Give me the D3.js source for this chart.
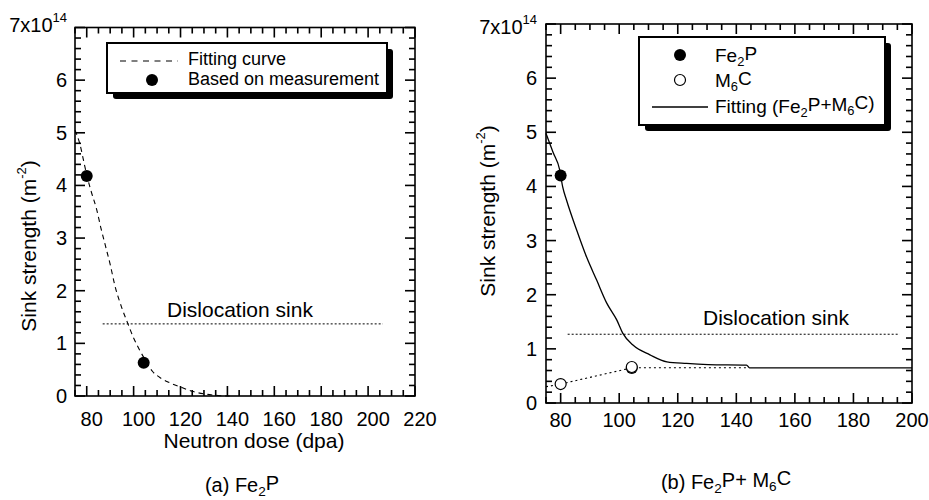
<!DOCTYPE html>
<html><head><meta charset="utf-8">
<script src="https://cdn.jsdelivr.net/npm/d3@7"></script>
<style>
body{margin:0;background:#fff}
svg{display:block}
text{font-family:'Liberation Sans',Arial,Helvetica,sans-serif;fill:#000}
</style>
</head><body>
<svg id="c" width="929" height="500"></svg>
<script>
// ---------- data ----------
const xMajorLeft = [80,100,120,140,160,180,200,220];
const xMajorRight = [80,100,120,140,160,180,200];
const yMajor = [0,1,2,3,4,5,6,7];

// panel (a) Fe2P
const aFitDose  = [75, 77, 79, 80, 82, 84.2, 86, 88, 90, 92, 95, 97.5, 100, 102.6, 105, 108, 112, 115, 120, 125, 130, 136, 141];
const aFitValue = [5.05, 4.8, 4.4, 4.2, 3.87, 3.55, 3.2, 2.85, 2.5, 2.1, 1.67, 1.38, 1.1, 0.87, 0.68, 0.47, 0.33, 0.26, 0.17, 0.09, 0.04, 0.01, 0.0];
const aMeasDose  = [80, 104.3];
const aMeasValue = [4.18, 0.63];
const aDislDose  = [86.8, 206.3];
const aDislValue = [1.37, 1.37];

// panel (b) Fe2P + M6C
const bFitDose  = [75, 77.4, 79.7, 80.7, 82, 85.5, 88.9, 92.3, 95.7, 99.2, 101.2, 104.7, 110.5, 116.3, 123, 130.4, 143.5, 144.5, 200];
const bFitValue = [4.98, 4.63, 4.3, 3.99, 3.75, 3.19, 2.69, 2.27, 1.85, 1.53, 1.29, 1.07, 0.89, 0.76, 0.73, 0.71, 0.70, 0.65, 0.65];
const bM6CLineDose  = [75, 80, 104.3, 143.7];
const bM6CLineValue = [0.30, 0.35, 0.65, 0.65];
const bFe2PDose  = [80, 104.3];
const bFe2PValue = [4.2, 0.645];
const bM6CDose  = [80, 104.3];
const bM6CValue = [0.35, 0.665];
const bDislDose  = [82.4, 195.8];
const bDislValue = [1.27, 1.27];

// ---------- drawing ----------
const svg = d3.select('#c');
const zip = (a,b) => a.map((v,i)=>[v,b[i]]);
function range(a,b,s){const r=[];for(let v=a;v<=b+1e-9;v+=s)r.push(+v.toFixed(4));return r;}

function panel(cfg){
  const x = d3.scaleLinear().domain(cfg.xDomain).range([cfg.x0,cfg.x1]);
  const y = d3.scaleLinear().domain([0,7]).range([cfg.y0,cfg.y1]);
  const g = svg.append('g');
  const xMinor = range(cfg.xDomain[0], cfg.xDomain[1], 5).filter(v=>!cfg.xMajor.includes(v));
  const yMinor = range(0,7,0.2).filter(v=>Math.abs(v-Math.round(v))>1e-6);
  const MAJ=10, MIN=6, W=1.6;
  const tk = [];
  cfg.xMajor.forEach(v=>{tk.push({x:x(v)-W/2,y:cfg.y0-MAJ,w:W,h:MAJ},{x:x(v)-W/2,y:cfg.y1,w:W,h:MAJ});});
  xMinor.forEach(v=>{tk.push({x:x(v)-W/2,y:cfg.y0-MIN,w:W,h:MIN},{x:x(v)-W/2,y:cfg.y1,w:W,h:MIN});});
  yMajor.forEach(v=>{tk.push({x:cfg.x0,y:y(v)-W/2,w:MAJ,h:W},{x:cfg.x1-MAJ,y:y(v)-W/2,w:MAJ,h:W});});
  yMinor.forEach(v=>{tk.push({x:cfg.x0,y:y(v)-W/2,w:MIN,h:W},{x:cfg.x1-MIN,y:y(v)-W/2,w:MIN,h:W});});
  g.selectAll(null).data(tk).join('rect')
    .attr('x',d=>d.x).attr('y',d=>d.y).attr('width',d=>d.w).attr('height',d=>d.h).attr('fill','#000');
  // labels
  g.selectAll(null).data(cfg.xMajor).join('text')
    .attr('x',v=>x(v)+cfg.xLabelDx).attr('y',cfg.y0+cfg.xPad).attr('dy','0.71em')
    .attr('text-anchor','middle').attr('font-size',20).text(v=>v);
  g.selectAll(null).data(yMajor.filter(v=>v<7)).join('text')
    .attr('x',cfg.x0-cfg.yPad).attr('y',v=>y(v)).attr('dy','0.35em')
    .attr('text-anchor','end').attr('font-size',20).text(v=>v);
  const t7 = g.append('text').attr('x',cfg.x0-cfg.yPad).attr('y',y(7)+cfg.sevenDy).attr('dy','0.35em')
    .attr('text-anchor','end').attr('font-size',20).text('7x10');
  t7.append('tspan').attr('font-size',13).attr('dy','-0.75em').text('14');
  g.append('rect').attr('x',cfg.x0).attr('y',cfg.y1).attr('width',cfg.x1-cfg.x0).attr('height',cfg.y0-cfg.y1)
    .attr('fill','none').attr('stroke','#000').attr('stroke-width',1.6);
  return {g,x,y};
}

function yTitle(g, cx, cy){
  const t = g.append('text').attr('transform',`translate(${cx},${cy}) rotate(-90)`)
    .attr('text-anchor','middle').attr('dominant-baseline','central').attr('font-size',21);
  t.append('tspan').text('Sink strength (m');
  t.append('tspan').attr('font-size',13).attr('dy','-0.55em').text('-2');
  t.append('tspan').attr('dy','0.35em').text(')');
}

function subText(g, x, yb, parts, size, anchor){
  const t = g.append('text').attr('x',x).attr('y',yb).attr('font-size',size).attr('text-anchor',anchor||'start');
  parts.forEach(p=>{
    if(p.sub){ t.append('tspan').attr('font-size',size*0.68).attr('dy','0.3em').text(p.sub); }
    else { const s = t.append('tspan').text(p.t); if(p.after) s.attr('dy', p.after); }
  });
  return t;
}

function legendBox(g, x, y, w, h){
  g.append('rect').attr('x',x+6).attr('y',y+6).attr('width',w).attr('height',h).attr('rx',3).attr('fill','#000');
  g.append('rect').attr('x',x).attr('y',y).attr('width',w).attr('height',h).attr('fill','#fff').attr('stroke','#000').attr('stroke-width',2);
}

// ----- panel (a)
const A = panel({xDomain:[75,220], x0:75, x1:415, y0:396, y1:27.5, xMajor:xMajorLeft, xPad:16, xLabelDx:5, yPad:8, sevenDy:-3});
const lineA = d3.line().x(d=>A.x(d[0])).y(d=>A.y(d[1])).curve(d3.curveMonotoneX);
A.g.append('path').attr('d',lineA(zip(aFitDose,aFitValue))).attr('fill','none').attr('stroke','#000')
  .attr('stroke-width',1.1).attr('stroke-dasharray','5,4');
A.g.append('path').attr('d',d3.line().x(d=>A.x(d[0])).y(d=>A.y(d[1]))(zip(aDislDose,aDislValue)))
  .attr('fill','none').attr('stroke','#000').attr('stroke-width',1).attr('stroke-dasharray','2,2');
A.g.selectAll(null).data(zip(aMeasDose,aMeasValue)).join('circle')
  .attr('cx',d=>A.x(d[0])).attr('cy',d=>A.y(d[1])).attr('r',6).attr('fill','#000');
A.g.append('text').attr('x',167).attr('y',317).attr('font-size',21).text('Dislocation sink');
yTitle(A.g, 28, 246);
A.g.append('text').attr('x',254).attr('y',448).attr('text-anchor','middle').attr('font-size',21).text('Neutron dose (dpa)');
subText(A.g, 242, 492, [{t:'(a) Fe'},{sub:'2'},{t:'P',after:'-0.3em'}], 20, 'middle');
const LA = svg.append('g');
legendBox(LA, 107, 43, 280, 50);
LA.append('line').attr('x1',120).attr('x2',178).attr('y1',61).attr('y2',61).attr('stroke','#000')
  .attr('stroke-width',1.1).attr('stroke-dasharray','6,5.5');
LA.append('text').attr('x',188).attr('y',65).attr('font-size',18).text('Fitting curve');
LA.append('circle').attr('cx',152).attr('cy',80).attr('r',6).attr('fill','#000');
LA.append('text').attr('x',188).attr('y',85).attr('font-size',18).text('Based on measurement');

// ----- panel (b)
const B = panel({xDomain:[75,200], x0:546, x1:912, y0:403, y1:24, xMajor:xMajorRight, xPad:10, xLabelDx:0, yPad:9, sevenDy:3});
const lineB = d3.line().x(d=>B.x(d[0])).y(d=>B.y(d[1])).curve(d3.curveMonotoneX);
B.g.append('path').attr('d',d3.line().x(d=>B.x(d[0])).y(d=>B.y(d[1]))(zip(bDislDose,bDislValue)))
  .attr('fill','none').attr('stroke','#000').attr('stroke-width',1).attr('stroke-dasharray','2,2');
B.g.append('path').attr('d',d3.line().x(d=>B.x(d[0])).y(d=>B.y(d[1]))(zip(bM6CLineDose,bM6CLineValue)))
  .attr('fill','none').attr('stroke','#000').attr('stroke-width',1.1).attr('stroke-dasharray','2,3');
B.g.append('path').attr('d',lineB(zip(bFitDose,bFitValue))).attr('fill','none').attr('stroke','#000').attr('stroke-width',1.3);
B.g.selectAll(null).data(zip(bFe2PDose,bFe2PValue)).join('circle')
  .attr('cx',d=>B.x(d[0])).attr('cy',d=>B.y(d[1])).attr('r',6).attr('fill','#000');
B.g.selectAll(null).data(zip(bM6CDose,bM6CValue)).join('circle')
  .attr('cx',d=>B.x(d[0])).attr('cy',d=>B.y(d[1])).attr('r',5.5).attr('fill','#fff').attr('stroke','#000').attr('stroke-width',1.2);
B.g.append('text').attr('x',703).attr('y',325).attr('font-size',21).text('Dislocation sink');
yTitle(B.g, 487, 211);
subText(B.g, 726, 489, [{t:'(b) Fe'},{sub:'2'},{t:'P+  M',after:'-0.3em'},{sub:'6'},{t:'C',after:'-0.3em'}], 20, 'middle');
const LB = svg.append('g');
legendBox(LB, 639, 37, 246, 88);
LB.append('circle').attr('cx',680).attr('cy',55).attr('r',6).attr('fill','#000');
subText(LB, 715, 62, [{t:'Fe'},{sub:'2'},{t:'P',after:'-0.3em'}], 19);
LB.append('circle').attr('cx',680).attr('cy',80).attr('r',5.5).attr('fill','#fff').attr('stroke','#000').attr('stroke-width',1.2);
subText(LB, 715, 87, [{t:'M'},{sub:'6'},{t:'C',after:'-0.3em'}], 19);
LB.append('line').attr('x1',652).attr('x2',708).attr('y1',107).attr('y2',107).attr('stroke','#000').attr('stroke-width',1.3);
subText(LB, 715, 113, [{t:'Fitting (Fe'},{sub:'2'},{t:'P+M',after:'-0.3em'},{sub:'6'},{t:'C)',after:'-0.3em'}], 19);
</script>
</body></html>
